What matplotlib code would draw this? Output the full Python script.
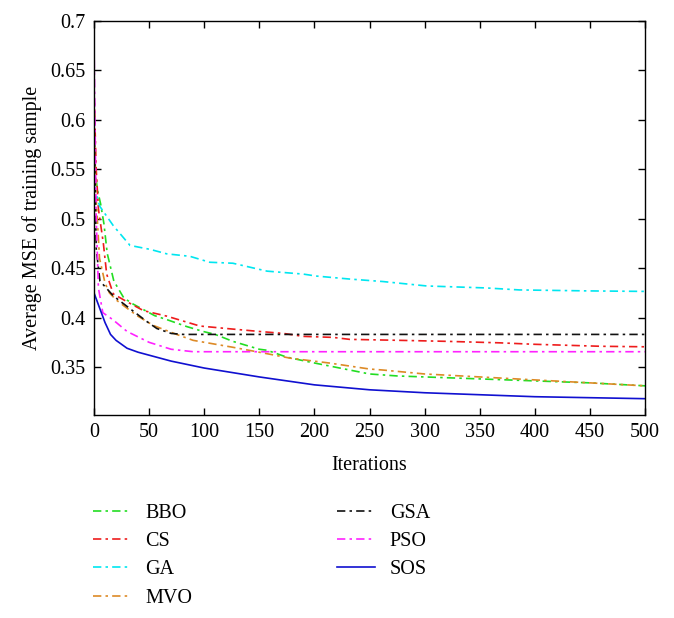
import matplotlib
matplotlib.use("Agg")
import matplotlib.pyplot as plt
from matplotlib.ticker import FormatStrFormatter

plt.rcParams['font.family'] = ['Liberation Serif', 'DejaVu Serif']

# ---- data ----
bbo_x = [0, 3, 6, 9, 12, 18, 27, 35, 45, 55, 66, 84, 99, 110, 126, 135, 150, 157, 175, 196, 214, 232, 250, 275, 300, 350, 400, 450, 500]
bbo_y = [0.56, 0.53, 0.515, 0.495, 0.465, 0.437, 0.42, 0.414, 0.408, 0.402, 0.398, 0.391, 0.386, 0.383, 0.376, 0.373, 0.368, 0.367, 0.36, 0.355, 0.351, 0.347, 0.343, 0.341, 0.340, 0.338, 0.336, 0.334, 0.331]

cs_x = [0, 2, 4, 8.5, 11.5, 17.5, 30, 45, 66, 96, 120, 150, 172, 190, 217, 232, 278, 320, 368, 400, 460, 500]
cs_y = [0.63, 0.55, 0.51, 0.475, 0.444, 0.424, 0.416, 0.407, 0.4015, 0.3915, 0.389, 0.386, 0.384, 0.381, 0.380, 0.378, 0.377, 0.376, 0.3745, 0.373, 0.371, 0.3705]

ga_x = [0, 5, 17.5, 32.7, 51, 66, 87, 105, 126, 157, 190, 202, 232, 262, 302, 356, 386, 450, 500]
ga_y = [0.535, 0.513, 0.493, 0.473, 0.469, 0.4645, 0.462, 0.456, 0.455, 0.447, 0.444, 0.442, 0.439, 0.4365, 0.432, 0.430, 0.428, 0.427, 0.4265]

mvo_x = [0, 2, 5, 10, 14, 20, 27, 39, 54, 75, 90, 126, 150, 178, 214, 250, 262, 300, 350, 400, 450, 500]
mvo_y = [0.60, 0.52, 0.46, 0.435, 0.425, 0.418, 0.412, 0.402, 0.392, 0.383, 0.377, 0.370, 0.365, 0.359, 0.354, 0.348, 0.347, 0.343, 0.340, 0.337, 0.334, 0.331]

gsa_x = [0, 2, 5.4, 17.5, 32.7, 48, 57, 70, 81, 500]
gsa_y = [0.60, 0.47, 0.437, 0.422, 0.409, 0.396, 0.389, 0.384, 0.383, 0.383]

pso_x = [0, 2, 4, 8, 17, 30, 50, 70, 90, 500]
pso_y = [0.68, 0.50, 0.43, 0.405, 0.398, 0.386, 0.375, 0.368, 0.3655, 0.3655]

sos_x = [0, 5, 10, 15, 20, 30, 40, 50, 70, 100, 150, 200, 250, 300, 350, 400, 450, 500]
sos_y = [0.425, 0.41, 0.395, 0.383, 0.377, 0.369, 0.365, 0.362, 0.356, 0.349, 0.340, 0.332, 0.327, 0.324, 0.322, 0.320, 0.319, 0.318]

labels = ['BBO', 'CS', 'GA', 'MVO', 'GSA', 'PSO', 'SOS']
colors = ['#22dd22', '#ee1c1c', '#00e6f0', '#dd8a26', '#111111', '#ff22ff', '#1010d0']

x_ticks = [0, 50, 100, 150, 200, 250, 300, 350, 400, 450, 500]
y_ticks = [0.35, 0.4, 0.45, 0.5, 0.55, 0.6, 0.65, 0.7]

# ---- figure ----
W, H = 674, 618
fig = plt.figure(figsize=(W / 100, H / 100), dpi=100)
ax = fig.add_axes([94 / W, 1 - 415 / H, (645 - 94) / W, (415 - 21) / H])

series = [(bbo_x, bbo_y), (cs_x, cs_y), (ga_x, ga_y), (mvo_x, mvo_y),
          (gsa_x, gsa_y), (pso_x, pso_y), (sos_x, sos_y)]
dashdot = (5, 2.5, 1.5, 2.5)
for (xs, ys), lab, col in zip(series, labels, colors):
    if lab == 'SOS':
        ax.plot(xs, ys, color=col, lw=1.2, label=lab)
    else:
        ax.plot(xs, ys, color=col, lw=1.2, dashes=dashdot, label=lab)

ax.set_xlim(0, 500)
ax.set_ylim(0.3015, 0.7)
ax.set_xticks(x_ticks)
ax.set_yticks(y_ticks)
ax.yaxis.set_major_formatter(FormatStrFormatter('%g'))
ax.tick_params(direction='in', length=5, width=1, top=True, right=True,
               labelsize=14.5, pad=6)
for s in ax.spines.values():
    s.set_linewidth(1.0)

ax.set_xlabel('Iterations', fontsize=14.5, labelpad=10)
ax.set_ylabel('Average MSE of training sample', fontsize=14.5, labelpad=6)

fig.legend(loc='upper left', bbox_to_anchor=(93 / W, 1 - 504 / H), ncol=2,
           frameon=False, fontsize=14.5, handlelength=1.85, handletextpad=0.75,
           columnspacing=7.2, labelspacing=0.45, borderaxespad=0, borderpad=0)

fig.savefig('out.png', dpi=100)
